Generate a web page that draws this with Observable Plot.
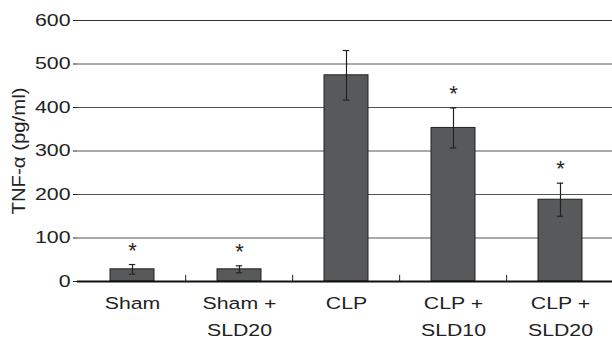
<!DOCTYPE html>
<html><head><meta charset="utf-8">
<script src="https://cdn.jsdelivr.net/npm/d3@7"></script>
<script src="https://cdn.jsdelivr.net/npm/@observablehq/plot@0.6"></script>
<style>
body{margin:0;background:#fff;}
svg{font-family:"Liberation Sans",Arial,sans-serif;}
</style></head>
<body><div id="chart"></div>
<script>
const groups = ["Sham", "Sham +\nSLD20", "CLP", "CLP +\nSLD10", "CLP +\nSLD20"];
const means = [28, 28, 474, 353, 188];
const errors = [11, 8, 57, 46, 38];
const significant = [true, true, false, true, true];
const yTicks = [0, 100, 200, 300, 400, 500, 600];
const yLabel = "TNF-α (pg/ml)";

const data = groups.map((g, i) => ({group: g, mean: means[i], err: errors[i], sig: significant[i]}));

const chart = Plot.plot({
  width: 612, height: 338,
  marginLeft: 77, marginRight: -4, marginTop: 20, marginBottom: 57,
  style: {fontFamily: "Liberation Sans, Arial, sans-serif", color: "#222", background: "#fff"},
  x: {domain: groups, paddingInner: 0.585, paddingOuter: 0.2925, label: null},
  y: {domain: [0, 600], label: null},
  marks: [
    Plot.ruleY(yTicks.filter(d => d > 0 && d < 600), {stroke: "#555", strokeWidth: 1}),
    Plot.ruleY([600], {stroke: "#333", strokeWidth: 1.2}),
    Plot.barY(data, {x: "group", y: "mean", fill: "#58595b", stroke: "#222", strokeWidth: 1}),
    Plot.ruleX(data, {x: "group", y1: d => d.mean - d.err, y2: d => d.mean + d.err, stroke: "#222", strokeWidth: 1.2}),
    Plot.tickY(data, {x: "group", y: d => d.mean + d.err, stroke: "#222", strokeWidth: 1.2, insetLeft: 18.8, insetRight: 18.8}),
    Plot.tickY(data, {x: "group", y: d => d.mean - d.err, stroke: "#222", strokeWidth: 1.2, insetLeft: 18.8, insetRight: 18.8}),
    Plot.text(data.filter(d => d.sig), {x: "group", y: d => d.mean + d.err, text: () => "*", dy: -14, fontSize: 22, fill: "#222", ariaLabel: "asterisk"}),
    Plot.ruleX(groups.slice(1), {x: d => d, y1: 0, y2: 14, dx: -53.85, stroke: "#222", strokeWidth: 1}),
    Plot.ruleY([0], {stroke: "#111", strokeWidth: 2}),
    Plot.axisY({ticks: yTicks, tickSize: 4, tickPadding: 3, fontSize: 16.8, stroke: "#222", label: yLabel, labelAnchor: "center", labelArrow: "none", labelOffset: 66}),
    Plot.ruleX([0], {x: () => 0, frameAnchor: "left", stroke: "#222"}),
    Plot.axisX({tickSize: 0, tickPadding: 9, fontSize: 16.5, lineHeight: 1.6, label: null})
  ]
});
document.getElementById("chart").appendChild(chart);

// widen the glyphs horizontally, as in the reference
function stretch(sel, sx, sy) {
  chart.querySelectorAll(sel).forEach(t => {
    const tr = t.getAttribute("transform");
    if (tr) t.setAttribute("transform", tr + ` scale(${sx},${sy})`);
    else {
      const x = +t.getAttribute("x") || 0, y = +t.getAttribute("y") || 0;
      t.setAttribute("transform", `translate(${x},${y}) scale(${sx},${sy}) translate(${-x},${-y})`);
    }
  });
}
stretch('g[aria-label="y-axis tick label"] text', 1.27, 1);
stretch('g[aria-label="x-axis tick label"] text', 1.29, 1);
const yl = chart.querySelector('g[aria-label="y-axis label"] text');
if (yl) { yl.style.fontSize = "18.5px"; }
stretch('g[aria-label="y-axis label"] text', 1.1, 1);
</script>
</body></html>
